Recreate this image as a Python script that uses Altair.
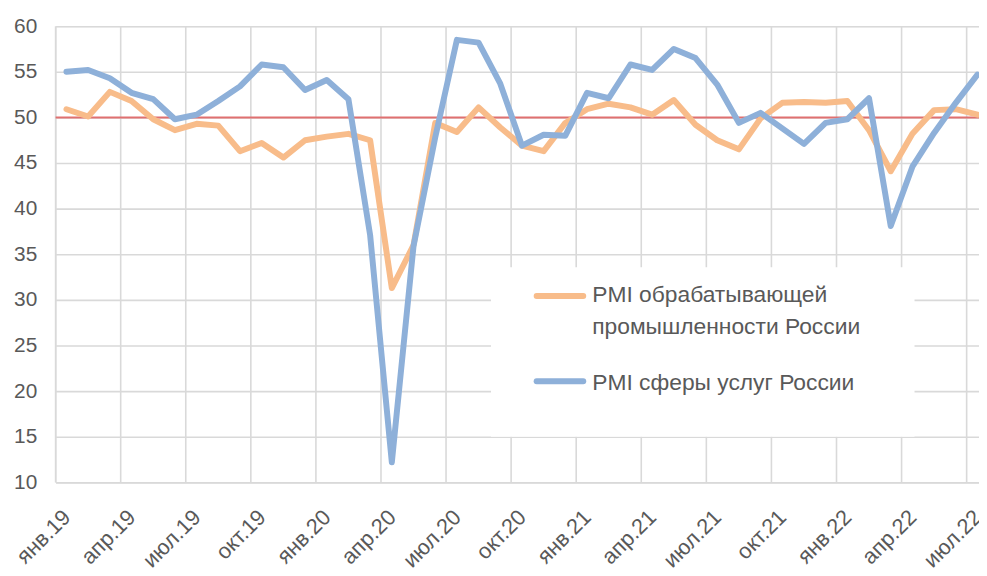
import altair as alt
import pandas as pd

# ---------------- data ----------------
month_labels = [
    "янв.19", "фев.19", "мар.19", "апр.19", "май.19", "июн.19", "июл.19", "авг.19", "сен.19", "окт.19", "ноя.19", "дек.19",
    "янв.20", "фев.20", "мар.20", "апр.20", "май.20", "июн.20", "июл.20", "авг.20", "сен.20", "окт.20", "ноя.20", "дек.20",
    "янв.21", "фев.21", "мар.21", "апр.21", "май.21", "июн.21", "июл.21", "авг.21", "сен.21", "окт.21", "ноя.21", "дек.21",
    "янв.22", "фев.22", "мар.22", "апр.22", "май.22", "июн.22", "июл.22",
]
manufacturing = [
    50.9, 50.1, 52.8, 51.8, 49.8, 48.6, 49.3, 49.1, 46.3, 47.2, 45.6, 47.5,
    47.9, 48.2, 47.5, 31.3, 36.0, 49.4, 48.4, 51.1, 48.9, 46.9, 46.3, 49.4,
    50.9, 51.5, 51.1, 50.3, 51.9, 49.2, 47.5, 46.5, 49.9, 51.6, 51.7, 51.6,
    51.8, 48.6, 44.1, 48.2, 50.8, 50.9, 50.3,
]
services = [
    55.0, 55.2, 54.3, 52.7, 52.0, 49.8, 50.3, 51.8, 53.4, 55.8, 55.5, 53.0,
    54.1, 52.0, 37.1, 12.2, 35.9, 47.8, 58.5, 58.2, 53.7, 46.9, 48.1, 48.0,
    52.7, 52.1, 55.8, 55.2, 57.5, 56.5, 53.6, 49.4, 50.5, 48.8, 47.1, 49.4,
    49.8, 52.1, 38.1, 44.6, 48.3, 51.6, 54.7,
]
series_names = ["PMI обрабатывающей промышленности России", "PMI сферы услуг России"]
legend_lines = [["PMI обрабатывающей", "промышленности России"], ["PMI сферы услуг России"]]
series_colors = ["#F8BC8A", "#8EB0D9"]
y_ticks = [10, 15, 20, 25, 30, 35, 40, 45, 50, 55, 60]
x_tick_index = list(range(0, len(month_labels), 3))
x_grid_pos = [i - 0.5 for i in x_tick_index]
threshold = [50]

# ---------------- layout ----------------
W, H = 931, 460
STEP = 21.87
FONT = "Liberation Sans"
TXT = "#595959"
GRID = "#D9D9D9"

idx = list(range(len(month_labels)))
df_m = pd.DataFrame({"i": idx, "v": manufacturing})
df_s = pd.DataFrame({"i": idx, "v": services})
df_g = pd.DataFrame({"p": x_grid_pos})
df_t = pd.DataFrame({"v": threshold})

label_expr = "[" + ",".join("'" + m + "'" for m in month_labels) + "][datum.value]"

x_scale = alt.Scale(domain=[-0.5, -0.5 + W / STEP], nice=False, zero=False)
y_scale = alt.Scale(domain=[10, 60], nice=False, zero=False)

x_axis = alt.Axis(
    values=x_tick_index, labelExpr=label_expr, labelAngle=-45, labelAlign="right",
    labelBaseline="middle", labelPadding=31, labelOffset=0, ticks=False, domain=False,
    grid=False, title=None, labelFontSize=22, labelColor=TXT, labelFont=FONT,
    labelOverlap=False, labelBound=False, labelFlush=False,
)
y_axis = alt.Axis(
    values=y_ticks, ticks=False, domain=False, grid=True, gridColor=GRID, gridWidth=1.6,
    title=None, labelFontSize=21, labelColor=TXT, labelFont=FONT, labelPadding=19,
)

vgrid = alt.Chart(df_g).mark_rule(color=GRID, strokeWidth=1.6).encode(
    x=alt.X("p:Q", scale=x_scale, axis=x_axis),
    y=alt.value(0), y2=alt.value(H),
)

legend_box = alt.Chart(df_t).mark_rect(fill="white").encode(
    x=alt.value(439), x2=alt.value(866), y=alt.value(243), y2=alt.value(414)
)

red = alt.Chart(df_t).mark_rule(color="#E07070", strokeWidth=2).encode(
    y=alt.Y("v:Q", scale=y_scale, axis=y_axis), x=alt.value(0), x2=alt.value(W)
)

def line(df, color):
    return alt.Chart(df).mark_line(
        color=color, strokeWidth=6, strokeJoin="round", strokeCap="round"
    ).encode(
        x=alt.X("i:Q", scale=x_scale, axis=x_axis),
        y=alt.Y("v:Q", scale=y_scale, axis=y_axis),
    )

l_m = line(df_m, series_colors[0])
l_s = line(df_s, series_colors[1])

def sample(color, y):
    return alt.Chart(df_t).mark_rule(color=color, strokeWidth=6, strokeCap="round").encode(
        x=alt.value(485), x2=alt.value(532), y=alt.value(y)
    )

def label(text, y):
    return alt.Chart(df_t).mark_text(
        text=text, align="left", baseline="alphabetic", fontSize=23, font=FONT, color=TXT
    ).encode(x=alt.value(541), y=alt.value(y))

legend_layers = [
    sample(series_colors[0], 272),
    label(legend_lines[0][0], 278),
    label(legend_lines[0][1], 310),
    sample(series_colors[1], 358),
    label(legend_lines[1][0], 367),
]

chart = alt.layer(vgrid, legend_box, red, l_m, l_s, *legend_layers).properties(
    width=W, height=H,
    padding={"left": 48, "top": 16, "right": 0, "bottom": 88},
    autosize=alt.AutoSizeParams(type="none"),
).configure_view(stroke=None).configure(background="white")

chart.save("out.html", embed_options={"renderer": "svg", "actions": False})
